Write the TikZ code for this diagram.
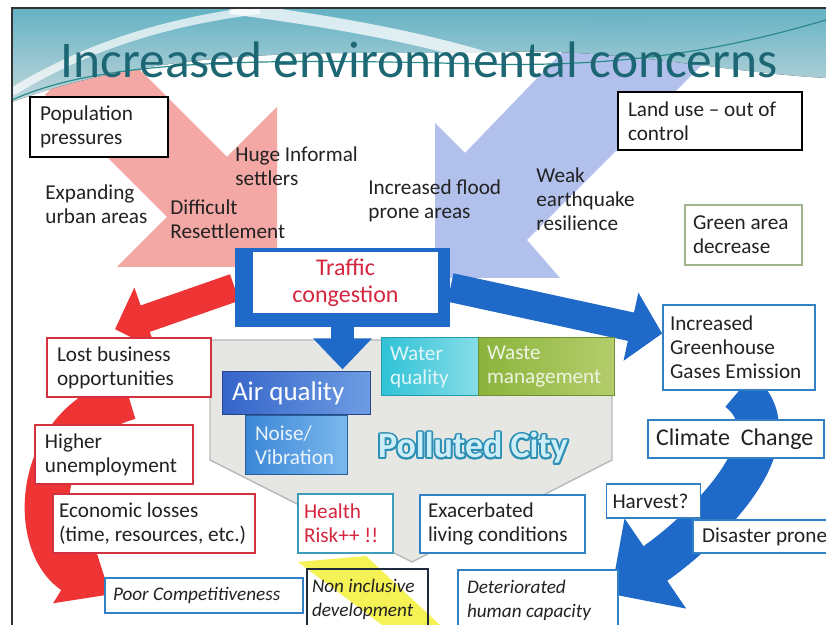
\documentclass[tikz,border=0pt]{standalone}
\usepackage{fontspec}
\setmainfont{Carlito}
\usepackage{contour}
\usetikzlibrary{positioning}
\usetikzlibrary{calc}
\usetikzlibrary{arrows.meta}
\pgfdeclarelayer{back}
\pgfdeclarelayer{mid}
\pgfsetlayers{back,mid,main}
\contourlength{0.9pt}
\newcommand{\txtbody}{\fontsize{10.6}{12}\selectfont\hyphenpenalty=10000}
\newcommand{\txtital}{\fontsize{9.6}{12}\selectfont\itshape\hyphenpenalty=10000}
\definecolor{ink}{HTML}{222222}
\definecolor{titleteal}{HTML}{1D6674}
\definecolor{swooshtop}{HTML}{6FC7DC}
\definecolor{swooshbot}{HTML}{D8F1F6}
\definecolor{swooshline}{HTML}{2A8C8C}
\definecolor{boxred}{HTML}{D2313F}
\definecolor{boxblue}{HTML}{3480C4}
\definecolor{greenbox}{HTML}{A0B48C}
\definecolor{healthbox}{HTML}{3C9CBA}
\definecolor{navy}{HTML}{1E2B3A}
\definecolor{riskred}{HTML}{D62640}
\definecolor{dblue}{HTML}{1F69C8}
\definecolor{redarr}{HTML}{EE3434}
\definecolor{pinkarr}{HTML}{F3A8A6}
\definecolor{periarr}{HTML}{B2C0EC}
\definecolor{pentfill}{HTML}{E6E6E3}
\definecolor{pentline}{HTML}{B4BABA}
\definecolor{yellowarr}{HTML}{F2EE1E}
\definecolor{pcfill}{HTML}{CDEEF6}
\definecolor{pcline}{HTML}{2C8FB5}
\definecolor{airL}{HTML}{3564CA}
\definecolor{airR}{HTML}{6E9CE2}
\definecolor{noiseL}{HTML}{3A86D6}
\definecolor{noiseR}{HTML}{7BB8EE}
\definecolor{waterL}{HTML}{2FC2D6}
\definecolor{waterR}{HTML}{86DDE8}
\definecolor{wasteL}{HTML}{8BB43C}
\definecolor{wasteR}{HTML}{B4CD6C}

\begin{document}
\begin{tikzpicture}[x=0.5pt,y=-0.5pt,
    box/.style={draw, fill=white, line width=0.8pt, align=flush left, inner xsep=5pt,
      inner ysep=0pt, text=ink, font=\txtbody},
    itbox/.style={box, font=\txtital},
    note/.style={align=flush left, inner sep=0pt, anchor=west, text=ink, font=\txtbody},
    tile/.style={draw=#1, line width=0.5pt, align=flush left, inner xsep=4.5pt,
      inner ysep=0pt, text=white, font=\txtbody},
    bluearr/.style={draw=dblue, line cap=butt},
    redband/.style={draw=redarr, line cap=butt}]
  \useasboundingbox (0,0) rectangle (826,625);

  \begin{pgfonlayer}{back}
  \fill[white] (0,0) rectangle (826,625);
  % big pale arrows
  \fill[pinkarr] (105,35) -- (227,157) -- (277,107) -- (277,267)
    -- (117,267) -- (167,217) -- (45,95) -- cycle;
  \fill[periarr] (595,18) -- (465,153) -- (435,123) -- (435,278)
    -- (560,278) -- (527,240) -- (745,22) -- cycle;
  % header swoosh
  \fill[top color=swooshtop, bottom color=swooshbot, opacity=.88] (12,8) -- (826,8) -- (826,78)
    .. controls (720,72) and (620,48) .. (500,52)
    .. controls (360,56) and (180,40) .. (12,102) -- cycle;
  \draw[white, opacity=.75, line width=6pt] (230,8) .. controls (320,20) and (410,34) .. (500,62);
  \draw[white, opacity=.7, line width=4pt] (12,92) .. controls (80,50) and (160,22) .. (260,10);
  \draw[swooshline, line width=0.6pt] (12,100) .. controls (100,60) and (250,58) .. (480,64)
    .. controls (640,68) and (740,45) .. (826,20);
  % polluted city
  \filldraw[fill=pentfill, draw=pentline, line width=0.7pt] (210,340) -- (612,340) -- (612,460)
    -- (412,562) -- (210,460) -- cycle;
  \fill[yellowarr, opacity=.75] (298,562) -- (366,556) -- (440,625) -- (382,625) -- cycle;
  \end{pgfonlayer}

  \node[anchor=base, inner sep=0pt, text=titleteal, font=\fontsize{25.7}{30}\selectfont]
    (title) at (419,78) {Increased environmental concerns};

  % boxes
  \node[box, draw=black, text width=59pt, minimum height=30pt] (pop) at (99,127) {Population\\pressures};
  \node[box, draw=black, text width=82pt, minimum height=29pt] (land) at (710,121) {Land use -- out of\\control};
  \node[box, draw=greenbox, inner xsep=4pt, text width=50.5pt, minimum height=30pt] (green) at (743.5,235) {Green area\\decrease};
  \node[box, draw=boxblue, inner xsep=3.5pt, text width=69pt, minimum height=42.5pt] (ghg) at (739,347.5) {Increased\\Greenhouse\\Gases Emission};
  \node[box, draw=boxred, text width=72pt, minimum height=29.5pt] (lost) at (129,367.5) {Lost business\\opportunities};
  \node[box, draw=boxred, text width=69pt, minimum height=29.5pt] (higher) at (114,454.5) {Higher\\unemployment};
  \node[box, draw=boxred, inner xsep=3pt, text width=95pt, minimum height=29.5pt] (econ) at (154,523.5) {Economic losses\\(time, resources, etc.)};
  \node[box, draw=healthbox, text=riskred, inner xsep=3pt, text width=41.5pt, minimum height=29.5pt] (health) at (345.5,523.5) {Health\\Risk++ !!};
  \node[box, draw=boxblue, inner xsep=4pt, text width=74.5pt, minimum height=29pt] (exac) at (502.5,524) {Exacerbated\\living conditions};
  \node[itbox, draw=navy, fill=none, inner xsep=2.5pt, text width=55.5pt, minimum height=30.5pt] (noninc) at (367.5,599.5) {Non inclusive\\development};
  \node[itbox, draw=boxblue, inner xsep=4.5pt, text width=71pt, minimum height=30pt] (deter) at (538,600) {Deteriorated\\human capacity};
  \node[itbox, draw=boxblue, inner xsep=4pt, text width=91pt, minimum height=17.5pt] (poor) at (204,595.5) {Poor Competitiveness};

  \node[fill=dblue, minimum width=107.5pt, minimum height=39.5pt, inner sep=0pt] (traffic) at (342.5,287.5) {};
  \node[fill=white, text=riskred, font=\fontsize{12}{13.5}\selectfont, align=center, text width=92.5pt,
    minimum height=30.5pt, inner sep=0pt] (trafficin) at (345.5,282.5) {Traffic\\congestion};

  \node[box, draw=boxblue, inner xsep=4pt, text width=80pt, minimum height=19pt,
    font=\fontsize{12}{13}\selectfont] (climate) at (736,439) {Climate~ Change};
  \node[box, draw=boxblue, inner xsep=3pt, text width=41pt, minimum height=17pt] (harvest) at (653.5,501) {Harvest?};
  \node[box, draw=boxblue, inner xsep=4.5pt, text width=70pt, minimum height=16.5pt] (disaster) at (772,536.5) {Disaster prone};

  \node[tile=waterL!80!black, left color=waterL, right color=waterR, text=white!85!waterL,
    text width=39.5pt, minimum height=29pt] (water) at (429.5,367) {Water\\quality};
  \node[tile=wasteL!80!black, left color=wasteL, right color=wasteR, text=white!85!wasteL,
    text width=59pt, minimum height=29pt] (waste) at (546,367) {Waste\\management};
  \node[tile=airL!70!black, left color=airL, right color=airR, inner xsep=5pt, text width=64pt,
    minimum height=21.5pt, font=\fontsize{13.5}{15}\selectfont] (air) at (296,393.5) {Air quality};
  \node[tile=noiseL!70!black, left color=noiseL, right color=noiseR, text=white!90!noiseL,
    inner xsep=5pt, text width=41pt, minimum height=29.5pt] (noise) at (296,445.5) {Noise/\\Vibration};
  \node[anchor=base, inner sep=0pt, text=pcfill, font=\fontsize{18}{20}\selectfont\bfseries]
    (city) at (473,458) {\contour{pcline}{Polluted City}};

  % free labels
  \node[note] (expand) at (45,204) {Expanding\\urban areas};
  \node[note] (resettle) at (170,219) {Difficult\\Resettlement};
  \node[note] (settlers) at (235,166) {Huge Informal\\settlers};
  \node[note] (flood) at (368,201) {Increased flood\\prone areas};
  \node[note] (quake) at (536,199) {Weak\\earthquake\\resilience};

  % arrows
  \begin{pgfonlayer}{mid}
  \draw[redband, line width=14pt, -{Triangle[length=16pt,width=32pt]}] (traffic.west) -- ($(lost.north)+(-14,-8)$);
  \draw[redband, line width=22pt, -{Triangle[length=22pt,width=36pt]}] (lost.south)
    .. controls (32,425) and (30,545) .. ($(poor.west)+(6,-1)$);
  \draw[bluearr, line width=11.5pt, -{Triangle[length=15.5pt,width=28.5pt]}] (traffic.south) -- ++(0,42);
  \draw[bluearr, line width=14.5pt, -{Triangle[length=16pt,width=34pt]}] (traffic.east) -- ($(ghg.west)+(0,-14)$);
  \draw[bluearr, line width=21pt, -{Triangle[length=27pt,width=53pt]}] (ghg.south)
    .. controls (800,440) and (700,533) .. ($(deter.east)+(-8,-6)$);
  \end{pgfonlayer}

  % frame
  \draw[black!80, line width=0.8pt] (12,625) -- (12,8) -- (826,8);
\end{tikzpicture}
\end{document}
